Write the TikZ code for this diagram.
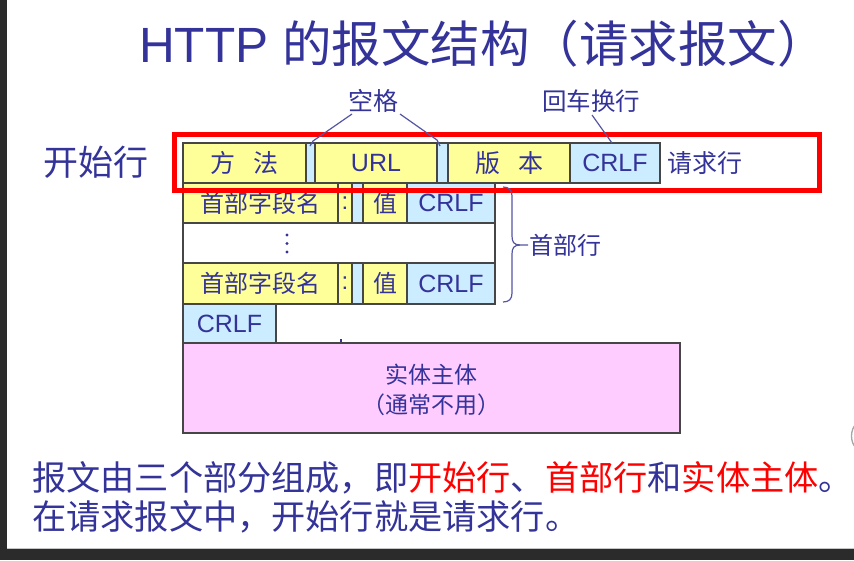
\documentclass[tikz,border=0pt]{standalone}
\usepackage{fontspec}
\setmainfont{Liberation Sans}
\newfontfamily\cjk{Noto Sans CJK SC}
\definecolor{txt}{RGB}{51,51,153}
\definecolor{lnc}{RGB}{85,85,165}
\definecolor{ylw}{RGB}{255,255,153}
\definecolor{lbl}{RGB}{204,236,255}
\definecolor{pnk}{RGB}{255,204,255}
\definecolor{bdr}{RGB}{70,70,70}
\definecolor{darkbg}{RGB}{43,43,43}
\newcommand{\fs}[1]{\fontsize{#1}{#1}\selectfont}
\begin{document}
\begin{tikzpicture}[x=1pt,y=-1pt,
  cellbox/.style={draw=bdr, line width=1.1pt, inner sep=0pt, outer sep=0pt, anchor=north west, text=txt},
  lbltext/.style={inner sep=0pt, text=txt},
  annot/.style={draw=lnc, line width=1.2pt}]
\useasboundingbox (0,0) rectangle (854,560);
\fill[white] (0,0) rectangle (854,560);
\fill[darkbg] (0,0) rectangle (7,560);
\fill[darkbg] (0,549) rectangle (854,560);
\draw[gray!45, line width=0.8pt] (7,548) -- (854,548);
\draw[gray!70, line width=1.3pt] (856,424) .. controls (850,430) and (850,442) .. (856,448);

% title
\node[lbltext, anchor=base west] (title) at (139,62) {\fs{49.5}HTTP {\cjk 的报文结构（请求报文）}};
\node[lbltext, anchor=west] (start) at (43,162) {\cjk\fs{35}开始行};

% request line
\node[cellbox, fill=ylw, minimum width=123pt, minimum height=40pt] (meth) at (183,143) {\cjk\fs{25}方\hspace{0.72em}法};
\node[cellbox, fill=lbl, minimum width=9pt, minimum height=40pt] (sp1) at (306,143) {};
\node[cellbox, fill=ylw, minimum width=122pt, minimum height=40pt] (url) at (315,143) {\fs{25}URL};
\node[cellbox, fill=lbl, minimum width=11pt, minimum height=40pt] (sp2) at (437,143) {};
\node[cellbox, fill=ylw, minimum width=122pt, minimum height=40pt] (ver) at (448,143) {\cjk\fs{25}版\hspace{0.72em}本};
\node[cellbox, fill=lbl, minimum width=90pt, minimum height=40pt] (crlf0) at (570,143) {\fs{25}CRLF};
\node[lbltext, anchor=west] (reqline) at (667,163) {\cjk\fs{25}请求行};

% header line 1
\node[cellbox, fill=ylw, minimum width=155pt, minimum height=40pt] (hn1) at (183,183) {\cjk\fs{24}首部字段名};
\node[cellbox, fill=ylw, minimum width=14pt, minimum height=40pt] (hc1) at (338,183) {\fs{24}:};
\node[cellbox, fill=lbl, minimum width=11pt, minimum height=40pt] (hs1) at (352,183) {};
\node[cellbox, fill=ylw, minimum width=44pt, minimum height=40pt] (hv1) at (363,183) {\cjk\fs{24}值};
\node[cellbox, fill=lbl, minimum width=88pt, minimum height=40pt] (hr1) at (407,183) {\fs{25}CRLF};

% dots row
\node[cellbox, fill=white, minimum width=312pt, minimum height=40pt] (dots) at (183,223) {};
\fill[txt] (287,235) circle (1.7pt);
\fill[txt] (287,243.5) circle (1.7pt);
\fill[txt] (287,252) circle (1.7pt);

% header line n
\node[cellbox, fill=ylw, minimum width=155pt, minimum height=41pt] (hn2) at (183,263) {\cjk\fs{24}首部字段名};
\node[cellbox, fill=ylw, minimum width=14pt, minimum height=41pt] (hc2) at (338,263) {\fs{24}:};
\node[cellbox, fill=lbl, minimum width=11pt, minimum height=41pt] (hs2) at (352,263) {};
\node[cellbox, fill=ylw, minimum width=44pt, minimum height=41pt] (hv2) at (363,263) {\cjk\fs{24}值};
\node[cellbox, fill=lbl, minimum width=88pt, minimum height=41pt] (hr2) at (407,263) {\fs{25}CRLF};

% empty line
\node[cellbox, fill=lbl, minimum width=93pt, minimum height=39pt] (crlfe) at (183,304) {\fs{25}CRLF};
\draw[txt, line width=1.2pt] (341,339) -- (341,344);

% entity body
\node[cellbox, fill=pnk, minimum width=497pt, minimum height=90pt] (body) at (183,343) {};
\node[lbltext, align=center, font=\cjk\fontsize{23}{30}\selectfont] (bodytxt) at (431,390) {实体主体\\（通常不用）};

% red frame
\node[draw=red, line width=5pt, inner sep=0pt, outer sep=0pt, anchor=north west, minimum width=644.5pt, minimum height=55.5pt] (reqbox) at (174.5,134.5) {};

% annotations
\node[lbltext] (spc) at (373,101) {\cjk\fs{25}空格};
\node[lbltext] (crlfl) at (591,101) {\cjk\fs{24.5}回车换行};
\coordinate (a1) at (352,114);
\coordinate (a2) at (313,141);
\coordinate (a3) at (310,146);
\coordinate (b1) at (400,114);
\coordinate (b2) at (437,140);
\coordinate (b3) at (440,146);
\coordinate (c1) at (592,115);
\coordinate (c2) at (612,143);
\draw[annot] (a1) -- (a2) -- (a3);
\draw[annot] (b1) -- (b2) -- (b3);
\draw[annot] (c1) -- (c2);

% brace
\coordinate (bt) at (503,187);
\coordinate (bb) at (503,302);
\coordinate (tip) at (528,245);
\draw[annot] (bt) .. controls (509,187) and (512,190) .. (512,196) -- (512,236)
  .. controls (512,242) and (514,245) .. (520,245) -- (tip);
\draw[annot] (520,245) .. controls (514,245) and (512,248) .. (512,254) -- (512,293)
  .. controls (512,299) and (509,302) .. (bb);
\node[lbltext, anchor=west] (hdr) at (529,245) {\cjk\fs{24}首部行};

% bottom text
\node[lbltext, anchor=west] (l1) at (32,478) {\cjk\fs{34.2}报文由三个部分组成，即\textcolor{red}{开始行}、\textcolor{red}{首部行}和\textcolor{red}{实体主体}。};
\node[lbltext, anchor=west] (l2) at (32,517) {\cjk\fs{34.2}在请求报文中，开始行就是请求行。};
\end{tikzpicture}
\end{document}
